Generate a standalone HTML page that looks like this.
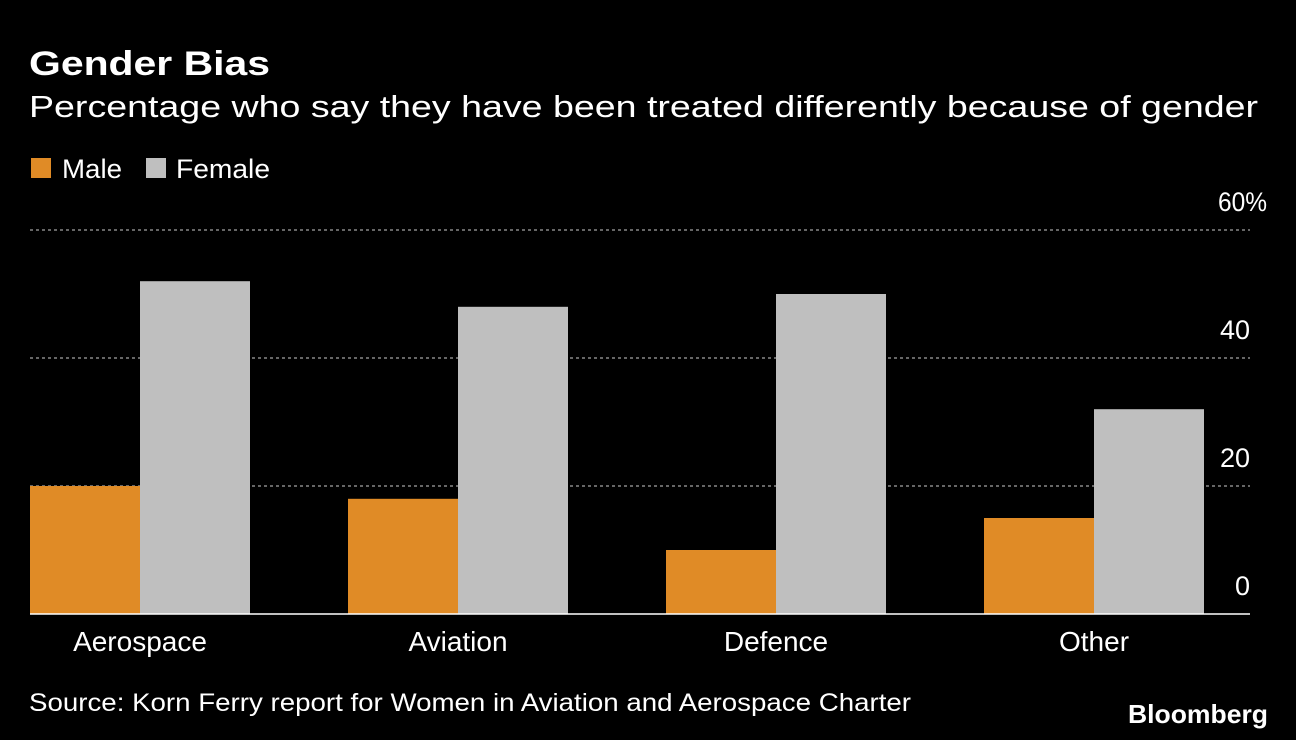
<!DOCTYPE html>
<html><head><meta charset="utf-8"><style>
html,body{margin:0;padding:0;background:#000;width:1296px;height:740px;overflow:hidden}
svg text{font-family:"Liberation Sans","DejaVu Sans",sans-serif}
</style></head><body>
<svg id="chart" width="1296" height="740" xmlns="http://www.w3.org/2000/svg">
<rect width="1296" height="740" fill="#000"/>
<text x="29" y="75" fill="#fff" font-size="34" font-weight="bold" textLength="241" lengthAdjust="spacingAndGlyphs">Gender Bias</text>
<text x="29" y="117" fill="#fff" font-size="31" textLength="1229" lengthAdjust="spacingAndGlyphs">Percentage who say they have been treated differently because of gender</text>
<g>
<rect x="31" y="158" width="20" height="20" fill="#e08b26"/>
<text x="62" y="178" fill="#fff" font-size="27" textLength="60" lengthAdjust="spacingAndGlyphs">Male</text>
<rect x="146" y="158" width="20" height="20" fill="#bfbfbf"/>
<text x="176" y="178" fill="#fff" font-size="27" textLength="94" lengthAdjust="spacingAndGlyphs">Female</text>
</g>
<g id="plot"></g>
<text x="29" y="711" fill="#fff" font-size="25" textLength="882" lengthAdjust="spacingAndGlyphs">Source: Korn Ferry report for Women in Aviation and Aerospace Charter</text>
<text x="1268" y="723" fill="#fff" font-size="26" font-weight="bold" text-anchor="end" textLength="140" lengthAdjust="spacingAndGlyphs">Bloomberg</text>
</svg>
<script>
const categories = ["Aerospace","Aviation","Defence","Other"];
const maleValues = [20,18,10,15];
const femaleValues = [52,48,50,32];
const tickValues = [0,20,40,60];
const tickLabels = ["0","20","40","60%"];

const NS="http://www.w3.org/2000/svg";
const g=document.getElementById('plot');
const x0=30,x1=1250,y0=614,pxPer=6.4,groupW=318,barW=110;
const y=v=>y0-v*pxPer;
const gx=i=>x0+i*groupW;
function mk(t,a){const e=document.createElementNS(NS,t);for(const k in a)e.setAttribute(k,a[k]);g.appendChild(e);return e;}
tickValues.forEach((v,i)=>{
  if(v>0){
    const l=mk('line',{x1:x0,x2:x1,y1:y(v),y2:y(v),stroke:'#888','stroke-width':1.5,'stroke-dasharray':'3,3'});
    
    
  }
  const last=i===tickValues.length-1;
  const attrs={x:last?1267:1250,y:y(v)-19,fill:'#fff','font-size':27,'text-anchor':'end'};
  if(last){attrs.textLength=49;attrs.lengthAdjust='spacingAndGlyphs';}
  const t=mk('text',attrs);
  t.textContent=tickLabels[i];
  
  
});
categories.forEach((c,i)=>{
  const m=mk('rect',{x:gx(i),y:y(maleValues[i]),width:barW,height:maleValues[i]*pxPer,fill:'#e08b26'});
  
  
  const f=mk('rect',{x:gx(i)+barW,y:y(femaleValues[i]),width:barW,height:femaleValues[i]*pxPer,fill:'#bfbfbf'});
  
  
  const t=mk('text',{x:gx(i)+barW,y:651,fill:'#fff','font-size':28,'text-anchor':'middle'});
  t.textContent=c;
  
  
});
const base=mk('line',{x1:x0,x2:x1,y1:y0,y2:y0,stroke:'#fff','stroke-width':1.5});


</script>
</body></html>
